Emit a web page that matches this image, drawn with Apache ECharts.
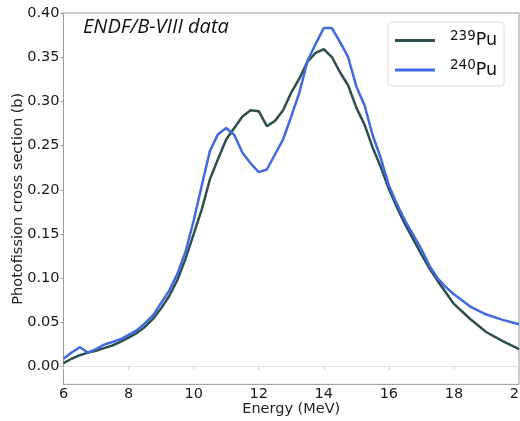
<!DOCTYPE html>
<html>
<head>
<meta charset="utf-8">
<script src="https://cdn.jsdelivr.net/npm/echarts@6/dist/echarts.min.js"></script>
<style>
  html, body { margin: 0; padding: 0; background: #fff; }
  #chart { width: 520px; height: 421px; }
</style>
</head>
<body>
<div id="chart"></div>
<script>
  // Photofission cross sections (b) vs photon energy (MeV).
  const energy = [6.0, 6.25, 6.5, 6.75, 7.0, 7.25, 7.5, 7.75, 8.0, 8.25, 8.5, 8.75,
    9.0, 9.25, 9.5, 9.75, 10.0, 10.25, 10.5, 10.75, 11.0, 11.25, 11.5, 11.75,
    12.0, 12.25, 12.5, 12.75, 13.0, 13.25, 13.5, 13.75, 14.0, 14.25, 14.5, 14.75,
    15.0, 15.25, 15.5, 15.75, 16.0, 16.25, 16.5, 16.75, 17.0, 17.25, 17.5, 17.75,
    18.0, 18.5, 19.0, 19.5, 20.0];
  const pu239 = [0.004, 0.009, 0.013, 0.016, 0.018, 0.021, 0.024, 0.028, 0.033, 0.038, 0.045, 0.054,
    0.066, 0.080, 0.098, 0.122, 0.150, 0.178, 0.212, 0.235, 0.257, 0.270, 0.283, 0.290,
    0.289, 0.272, 0.278, 0.290, 0.310, 0.326, 0.345, 0.355, 0.359, 0.350, 0.333, 0.318,
    0.293, 0.274, 0.248, 0.226, 0.201, 0.180, 0.161, 0.144, 0.127, 0.111, 0.097, 0.084,
    0.071, 0.054, 0.039, 0.029, 0.020];
  const pu240 = [0.009, 0.016, 0.022, 0.016, 0.020, 0.025, 0.028, 0.031, 0.036, 0.041, 0.049, 0.058,
    0.072, 0.086, 0.105, 0.130, 0.165, 0.205, 0.244, 0.263, 0.270, 0.262, 0.242, 0.230,
    0.220, 0.223, 0.240, 0.257, 0.283, 0.310, 0.346, 0.365, 0.383, 0.383, 0.367, 0.350,
    0.317, 0.296, 0.262, 0.236, 0.205, 0.184, 0.165, 0.149, 0.133, 0.114, 0.100, 0.090,
    0.082, 0.068, 0.059, 0.053, 0.048];
  const yTicks = [0, 0.05, 0.10, 0.15, 0.20, 0.25, 0.30, 0.35, 0.40];

  const FONT = "DejaVu Sans";
  const DARK = "#2f4f4f";
  const BLUE = "#4169e1";

  const inst = echarts.init(document.getElementById("chart"), null, { renderer: "canvas" });

  const pairs = (ys) => energy.map((x, i) => [x, ys[i]]);
  const supLabel = (name) => {
    const m = name.match(/^(\d+)(.*)$/);
    return "{s|" + m[1] + "}{p|" + m[2] + "}";
  };

  inst.setOption({
    animation: false,
    textStyle: { fontFamily: FONT },
    title: {
      text: "ENDF/B-VIII data", left: 78, top: 12,
      textStyle: { fontFamily: "Open Sans", fontStyle: "italic", fontWeight: "normal",
        fontSize: 20, color: "#111" },
    },
    grid: {
      left: 63.5, right: 1, top: 13, bottom: 36.6,
      outerBoundsMode: "none",
      show: true, borderColor: "#9a9a9a", borderWidth: 1,
    },
    legend: {
      orient: "vertical", left: 388, top: 22,
      padding: [7, 7, 7, 7], itemGap: 9,
      itemWidth: 40, itemHeight: 3, icon: "rect",
      backgroundColor: "#fff", borderColor: "#dcdcdc", borderWidth: 1, borderRadius: 3,
      data: ["239Pu", "240Pu"],
      formatter: supLabel,
      textStyle: {
        rich: {
          s: { fontFamily: FONT, fontSize: 13.5, color: "#111", padding: [0, 0, 9, 10] },
          p: { fontFamily: FONT, fontSize: 17.5, color: "#111" },
        },
      },
    },
    xAxis: {
      type: "value", min: 6, max: 20, interval: 2,
      name: "Energy (MeV)", nameLocation: "middle", nameGap: 17, nameMoveOverlap: false,
      nameTextStyle: { fontFamily: FONT, fontSize: 14.5, color: "#222" },
      axisLine: { show: true, lineStyle: { color: "#e2e2e2", width: 1 } },
      axisTick: { show: true, length: 3, lineStyle: { color: "#c8c8c8" } },
      axisLabel: { fontFamily: FONT, fontSize: 14.5, color: "#1a1a1a", margin: 2 },
      splitLine: { show: false },
    },
    yAxis: {
      type: "value", min: -0.02, max: 0.40,
      name: "Photofission cross section (b)", nameLocation: "middle", nameGap: 38,
      nameMoveOverlap: false,
      nameTextStyle: { fontFamily: FONT, fontSize: 14.5, color: "#222" },
      axisLine: { show: true, lineStyle: { color: "#9a9a9a", width: 1 } },
      axisTick: { show: true, length: 3, customValues: yTicks, lineStyle: { color: "#9a9a9a" } },
      axisLabel: {
        fontFamily: FONT, fontSize: 14.5, color: "#1a1a1a", margin: 4,
        customValues: yTicks, formatter: (v) => v.toFixed(2),
      },
      splitLine: { show: false },
    },
    series: [
      {
        name: "239Pu", type: "line", data: pairs(pu239), showSymbol: false,
        lineStyle: { color: DARK, width: 2.5 }, itemStyle: { color: DARK },
      },
      {
        name: "240Pu", type: "line", data: pairs(pu240), showSymbol: false,
        lineStyle: { color: BLUE, width: 2.5 }, itemStyle: { color: BLUE },
      },
    ],
  });
</script>
</body>
</html>
